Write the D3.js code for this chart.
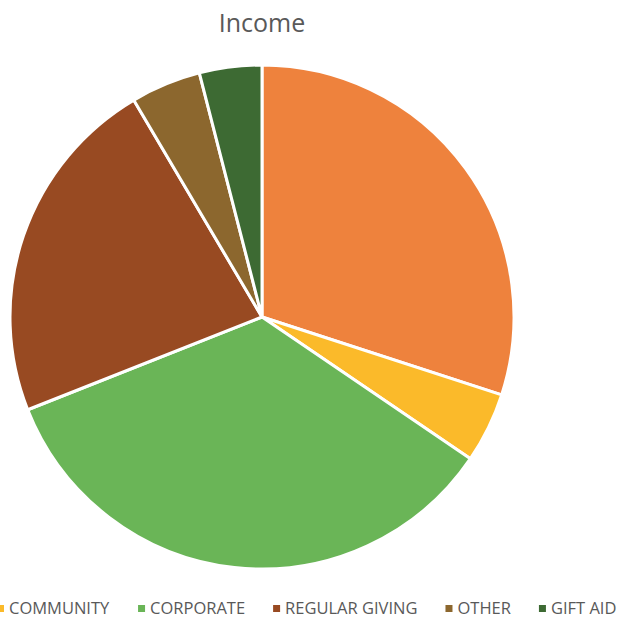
<!DOCTYPE html>
<html><head><meta charset="utf-8">
<script src="https://cdn.jsdelivr.net/npm/d3@7"></script>
<style>body{margin:0;background:#fff;}svg{display:block;}</style>
</head><body>
<svg id="c" width="627" height="619"></svg>
<script>
const categories = ["EVENTS", "COMMUNITY", "CORPORATE", "REGULAR GIVING", "OTHER", "GIFT AID"];
const values = [30, 4.5, 34.5, 22.5, 4.5, 4];
const colors = ["#EE823D", "#FBBA2A", "#6AB557", "#984A22", "#8C672E", "#3D6A33"];
const title = "Income";

const svg = d3.select("#c");
const cx = 262, cy = 317, r = 252;
const data = categories.map((c, i) => ({cat: c, v: values[i], col: colors[i]}));
const pie = d3.pie().sort(null).value(d => d.v);
const arc = d3.arc().innerRadius(0).outerRadius(r);
svg.append("g").attr("transform", `translate(${cx},${cy})`)
  .selectAll("path").data(pie(data)).join("path")
  .attr("d", arc).attr("fill", d => d.data.col)
  .attr("stroke", "#fff").attr("stroke-width", 3).attr("stroke-linejoin", "round");

svg.append("text").attr("x", 262).attr("y", 32).attr("text-anchor", "middle")
  .attr("font-family", "Open Sans, sans-serif").attr("font-size", 25).attr("fill", "#595959").text(title);

// legend (the first entry lies off the left edge in the reference; only its neighbours are shown)
const legendData = data.slice(1);
const lg = svg.append("g").attr("font-family", "Open Sans, sans-serif").attr("font-size", 16.5).attr("fill", "#595959");
const items = lg.selectAll("g").data(legendData).join("g");
items.append("rect").attr("width", 7).attr("height", 7).attr("y", -9).attr("fill", d => d.col);
items.append("text").attr("x", 12).attr("y", 0).text(d => d.cat);
const widths = [];
items.each(function(){ widths.push(this.getBBox().width); });
// spread items so the row spans from the left edge to the right edge
const total = d3.sum(widths);
const gap = (626 - (-3) - total - (legendData.length - 1) * 0) / (legendData.length - 1) - 0;
let xs = [], x = -3;
const g2 = Math.min(28, (626 + 3 - total) / (legendData.length - 1));
for (let i = 0; i < legendData.length; i++) { xs[i] = x; x += widths[i] + g2; }
items.attr("transform", (d, i) => `translate(${xs[i]},614)`);
</script>
</body></html>
